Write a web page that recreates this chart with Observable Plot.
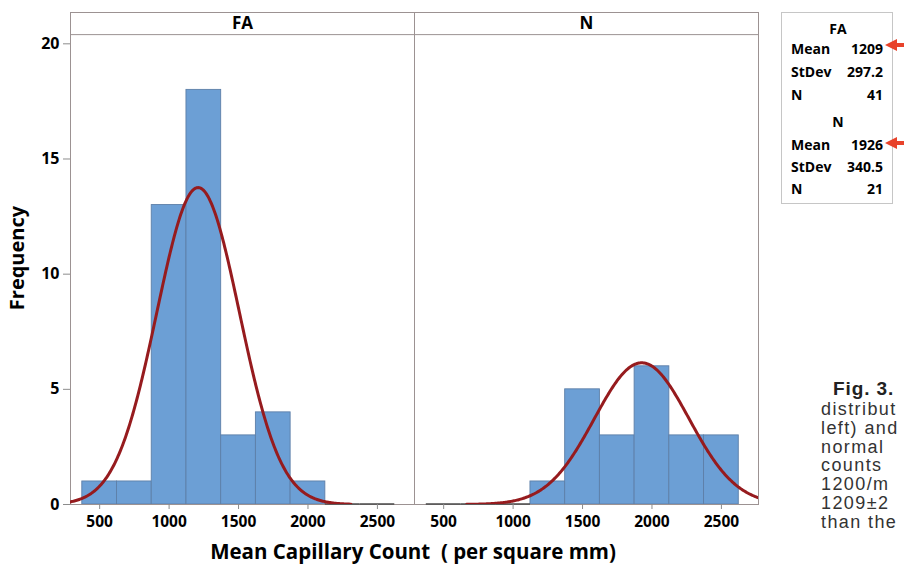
<!DOCTYPE html>
<html><head><meta charset="utf-8">
<script src="https://cdn.jsdelivr.net/npm/d3@7"></script>
<script src="https://cdn.jsdelivr.net/npm/@observablehq/plot@0.6"></script>
<style>
html,body{margin:0;padding:0;background:#fff;overflow:hidden;width:904px;height:564px}
#wrap{position:relative;width:904px;height:564px;overflow:hidden}
#chart{position:absolute;left:0;top:0}
.t{position:absolute;white-space:nowrap;font-family:"Open Sans",sans-serif;font-weight:700;color:#000;text-align:center}
.lg{position:absolute;white-space:nowrap;font-family:"Open Sans",sans-serif;font-weight:700;font-size:14px;line-height:18px;color:#000}
.cap{position:absolute;white-space:nowrap;font-family:"Liberation Sans",Arial,sans-serif;font-size:18px;line-height:19px;color:#333;letter-spacing:1.4px}
#box{position:absolute;left:781px;top:12px;width:110px;height:190px;border:1px solid #c6c6c6}
</style></head><body>
<div id="wrap">
<div id="chart"></div>
<div id="box"></div>
<div id="legend"></div>
<svg id="arrows" width="904" height="564" style="position:absolute;left:0;top:0;pointer-events:none"></svg>
<div class="t" style="left:-133px;top:244px;width:300px;height:28px;line-height:28px;font-size:20px;transform:rotate(-90deg)">Frequency</div>
<div class="t" style="left:113px;top:540px;width:600px;height:22px;line-height:22px;font-size:20.5px">Mean Capillary Count&nbsp; ( per square mm)</div>
<div id="caption"></div>
</div>
<script>
// ---- data ----
const groups = ["FA", "N"];
const binEdges = [375, 625, 875, 1125, 1375, 1625, 1875, 2125, 2375, 2625];
const countsFA = [1, 1, 13, 18, 3, 4, 1, 0, 0];
const countsN = [0, 0, 0, 1, 5, 3, 6, 3, 3];
const means = [1209, 1926];
const stdevs = [297.2, 340.5];
const sizes = [41, 21];
const meanLabels = ["1209", "1926"];
const stdevLabels = ["297.2", "340.5"];
const yTicks = [0, 5, 10, 15, 20];
const xTicks = [500, 1000, 1500, 2000, 2500];
const captionHead = "Fig. 3.";
const captionLines = ["distribut", "left) and", "normal", "counts", "1200/m", "1209±2", "than the"];

// ---- derived tables ----
const counts = [countsFA, countsN];
const bars = groups.flatMap((g, gi) => counts[gi].map((c, i) => ({group: g, x1: binEdges[i], x2: binEdges[i + 1], count: c})));
const binWidth = binEdges[1] - binEdges[0];
// fitted normal curve defined by the displayed Mean / StDev / N
const curve = groups.flatMap((g, gi) => {
  const m = means[gi], s = stdevs[gi], n = sizes[gi];
  const pts = [];
  for (let k = -370; k <= 370; k += 2) {
    const z = k / 100;
    pts.push({group: g, x: m + z * s, y: n * binWidth / (s * Math.sqrt(2 * Math.PI)) * Math.exp(-0.5 * z * z)});
  }
  return pts;
});

const frameColor = "#9c9292";
const yTop = 21.36, stripLine = 20.40, stripText = 20.90;

const chart = Plot.plot({
  width: 904, height: 564,
  marginLeft: 69, marginRight: 146, marginTop: 12, marginBottom: 60,
  style: {fontFamily: "Open Sans, sans-serif", background: "transparent"},
  fx: {domain: groups, padding: 0, axis: null},
  x: {domain: [290, 2767]},
  y: {domain: [0, yTop]},
  marks: [
    Plot.rectY(bars, {filter: d => d.count > 0, fx: "group", x1: "x1", x2: "x2", y: "count", fill: "#6c9fd5", stroke: "#5d7fa8", strokeWidth: 0.9}),
    Plot.frame({stroke: frameColor}),
    Plot.ruleY(bars, {filter: d => d.count === 0, fx: "group", x1: "x1", x2: "x2", y: d => 0, dy: -0.5, stroke: "#4a4a4a", strokeWidth: 1.5}),
    Plot.line(curve, {fx: "group", x: "x", y: "y", stroke: "#961b1e", strokeWidth: 3, clip: true}),
    Plot.ruleY([stripLine], {stroke: frameColor}),
    Plot.text(groups, {fx: d => d, text: d => d, y: d => stripText, fontSize: 17, fontWeight: "bold", fill: "#000"}),
    Plot.axisY({ticks: yTicks, tickSize: 7, tickPadding: 4, label: null, stroke: "#8c8c8c", fill: "#000", fontSize: 16, fontWeight: "bold"}),
    Plot.axisX({ticks: xTicks, tickSize: 5, tickPadding: 6, tickFormat: d => String(d), label: null, stroke: "#8c8c8c", fill: "#000", fontSize: 15.5, fontWeight: "bold"})
  ]
});
document.getElementById("chart").appendChild(chart);

// ---- legend ----
const lg = document.getElementById("legend");
function add(html, style) { const d = document.createElement("div"); d.className = "lg"; d.style.cssText = style; d.textContent = html; lg.appendChild(d); }
const rowsY = [[29, 49, 72, 95], [122, 145, 167, 189]];
groups.forEach((g, gi) => {
  const r = rowsY[gi];
  add(g, `left:808px;width:60px;text-align:center;top:${r[0] - 9}px`);
  add("Mean", `left:791px;top:${r[1] - 9}px`);
  add(meanLabels[gi], `right:${904 - 883}px;top:${r[1] - 9}px;text-align:right`);
  add("StDev", `left:791px;top:${r[2] - 9}px`);
  add(stdevLabels[gi], `right:${904 - 883}px;top:${r[2] - 9}px;text-align:right`);
  add("N", `left:791px;top:${r[3] - 9}px`);
  add(String(sizes[gi]), `right:${904 - 883}px;top:${r[3] - 9}px;text-align:right`);
});
// red pointer arrows
const svg = d3.select("#arrows");
[45, 143].forEach(y => {
  svg.append("path").attr("d", `M885,${y} L897,${y - 6} L897,${y + 6} Z`).attr("fill", "#e8432b");
  svg.append("rect").attr("x", 896).attr("y", y - 2).attr("width", 10).attr("height", 4).attr("fill", "#e8432b");
});

// ---- caption ----
const cap = document.getElementById("caption");
const h = document.createElement("div");
h.className = "cap"; h.style.cssText = "left:833px;top:379px;font-weight:700;font-size:19px;color:#222;letter-spacing:0.9px";
h.textContent = captionHead; cap.appendChild(h);
captionLines.forEach((t, i) => {
  const d = document.createElement("div");
  d.className = "cap"; d.style.left = "821px"; d.style.top = (400 + i * 18.8) + "px";
  d.textContent = t; cap.appendChild(d);
});
</script>
</body></html>
